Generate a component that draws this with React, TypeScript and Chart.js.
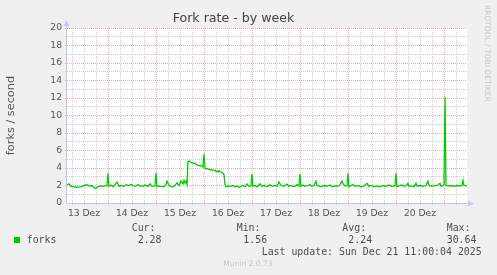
import React, { useEffect, useRef } from 'react';
import { Chart, registerables } from 'chart.js';

Chart.register(...registerables);

// hours since 13 Dez 00:00
const sampleHours = [
  3.5, 4.5, 5.5, 7, 8.5, 10, 11, 12.5, 13.5, 14.5, 16, 17, 18, 19, 20, 21.5, 22.5, 23.5,
  24, 24.5, 25.5, 26.5, 27.5, 28.5, 29.5, 30.5, 32, 33, 34.5, 35.5, 36.5, 38, 39, 40, 41.5, 42.5, 44, 45, 46, 47.5,
  48, 48.5, 49.5, 50.5, 52, 53, 53.5, 54.5, 55.5, 56.5, 57.5, 58.5, 59.5, 60.5, 61.5, 62, 62.5, 63, 63.5,
  64, 64.5, 65.5, 66.5, 67, 67.5, 68.5, 69, 70, 70.5, 71.5,
  72, 72.5, 73.5, 74.5, 75.5, 76.5, 77.5, 78, 78.5, 79, 79.5, 80, 80.5, 81.5, 82, 82.5, 83, 84, 85, 86.5, 87.5,
  88.5, 89.5, 90.5, 91.5, 92.5, 93.5, 94.5, 95.5,
  96, 96.5, 97.5, 98.5, 100, 101, 102, 103.5, 105, 106, 107.5, 108.5, 109.5, 110.5, 112, 113.5, 114.5, 115.5,
  117, 118.5, 119.5,
  120, 120.5, 121.5, 122.5, 124, 125, 126, 127, 128, 128.5, 129.5, 130.5, 132, 133.5, 135, 136, 137.5, 139,
  140, 141, 141.5, 142.5, 143.5,
  144, 144.5, 145.5, 146.5, 147.5, 149, 150.5, 152, 153.5, 154.5, 155.5, 157, 158.5, 160, 161.5, 163, 164.5,
  166, 167.5,
  168, 168.5, 169.5, 171, 172, 173, 174, 174.5, 176, 177, 178, 178.5, 180, 181.5, 183, 184, 184.5, 185.5,
  187, 188.5, 190, 190.5, 191.5,
  192, 192.5, 193, 194, 195.5, 197, 198.5, 200, 201, 201.5, 202, 203, 203.5,
];

const forkRates = [
  2.05, 2.2, 1.9, 1.85, 1.8, 1.85, 1.9, 2.05, 2.1, 1.95, 2.0, 1.75, 1.65, 1.85, 1.95, 1.9, 1.95, 1.95,
  3.4, 1.9, 2.05, 1.85, 2.1, 2.4, 1.9, 2.0, 1.9, 2.1, 2.0, 2.15, 2.0, 1.9, 2.1, 1.95, 1.9, 2.05, 1.9, 2.2, 1.9, 1.95,
  3.45, 1.85, 1.95, 1.9, 1.85, 2.1, 2.5, 2.0, 1.9, 1.85, 2.0, 2.3, 2.0, 2.5, 2.2, 2.6, 2.3, 2.5, 2.1,
  4.75, 4.8, 4.65, 4.6, 4.5, 4.55, 4.35, 4.3, 4.25, 4.3, 4.1,
  5.6, 3.95, 3.9, 3.85, 3.8, 3.75, 3.75, 3.6, 3.65, 3.55, 3.7, 3.6, 3.55, 3.4, 3.25, 2.1, 1.85, 1.95, 1.9, 2.0, 1.85,
  1.95, 1.8, 1.9, 2.0, 1.85, 2.2, 1.9, 1.95,
  3.3, 1.9, 2.0, 1.85, 2.2, 1.9, 2.0, 1.85, 2.1, 1.9, 2.0, 1.9, 2.4, 2.0, 1.9, 2.15, 1.9, 2.0,
  1.85, 2.1, 1.95,
  3.3, 1.9, 2.05, 1.9, 2.0, 2.1, 1.9, 2.0, 2.5, 2.0, 1.95, 1.85, 2.0, 1.9, 2.05, 1.85, 1.95, 1.9,
  2.1, 2.5, 2.2, 1.95, 1.95,
  3.4, 1.85, 2.0, 2.1, 1.9, 2.0, 1.85, 1.95, 2.25, 1.9, 2.0, 1.85, 1.95, 1.85, 2.0, 1.9, 2.05,
  1.9, 1.95,
  3.4, 1.85, 1.95, 2.05, 1.9, 2.0, 2.25, 1.9, 1.95, 1.85, 2.25, 1.95, 2.0, 1.9, 2.0, 2.5, 2.05, 1.9,
  1.95, 2.0, 2.25, 1.9, 2.0,
  2.1, 12.1, 2.0, 1.95, 2.0, 1.9, 2.0, 1.95, 2.0, 2.6, 2.0, 1.95, 2.0,
];

const dayLabels = ['13 Dez', '14 Dez', '15 Dez', '16 Dez', '17 Dez', '18 Dez', '19 Dez', '20 Dez'];
const xRangeHours = [3.5, 203.5];
const yRange = [0, 20];

const chartTitle = 'Fork rate - by week';
const yAxisTitle = 'forks / second';
const seriesName = 'forks';
const legendHeaders = ['Cur:', 'Min:', 'Avg:', 'Max:'];
const legendValues = ['2.28', '1.56', '2.24', '30.64'];
const lastUpdate = 'Last update: Sun Dec 21 11:00:04 2025';
const footer = 'Munin 2.0.73';
const sideText = 'RRDTOOL / TOBI OETIKER';

const LINE_COLOR = '#00CC00';
const MAJOR_GRID = 'rgba(238,140,140,0.75)';
const MINOR_GRID = 'rgba(175,175,175,0.65)';
const AXIS_COLOR = 'rgb(196,200,248)';
const TEXT_COLOR = '#555555';

const framePlugin = {
  id: 'muninFrame',
  beforeDraw(chart: any) {
    const { ctx, chartArea: a } = chart;
    ctx.save();
    ctx.fillStyle = '#ffffff';
    ctx.fillRect(a.left, a.top, a.right - a.left, a.bottom - a.top);
    ctx.restore();
  },
  afterDraw(chart: any) {
    const { ctx, chartArea: a } = chart;
    const x0 = Math.round(a.left) - 0.5;
    const y0 = Math.round(a.bottom) + 0.5;
    ctx.save();
    ctx.strokeStyle = AXIS_COLOR;
    ctx.fillStyle = AXIS_COLOR;
    ctx.lineWidth = 1;
    ctx.beginPath();
    ctx.moveTo(x0, y0);
    ctx.lineTo(x0, a.top - 4);
    ctx.moveTo(x0, y0);
    ctx.lineTo(a.right + 3, y0);
    ctx.stroke();
    ctx.beginPath();
    ctx.moveTo(x0, a.top - 8);
    ctx.lineTo(x0 - 3, a.top - 2);
    ctx.lineTo(x0 + 3, a.top - 2);
    ctx.closePath();
    ctx.fill();
    ctx.beginPath();
    ctx.moveTo(a.right + 7, y0);
    ctx.lineTo(a.right + 1, y0 - 3);
    ctx.lineTo(a.right + 1, y0 + 3);
    ctx.closePath();
    ctx.fill();
    ctx.restore();
  },
};

export default function App() {
  const canvasRef = useRef<HTMLCanvasElement | null>(null);

  useEffect(() => {
    const canvas = canvasRef.current;
    if (!canvas) return;
    const points = sampleHours.map((h, i) => ({ x: h, y: forkRates[i] }));
    const chart = new Chart(canvas, {
      type: 'line',
      data: {
        datasets: [
          {
            label: seriesName,
            data: points,
            borderColor: LINE_COLOR,
            borderWidth: 1.3,
            pointRadius: 0,
            tension: 0,
            fill: false,
          },
        ],
      },
      options: {
        animation: false,
        responsive: false,
        maintainAspectRatio: false,
        layout: { padding: { left: 0, right: 30, top: 0, bottom: 0 } },
        plugins: {
          legend: { display: false },
          tooltip: { enabled: false },
          title: {
            display: true,
            text: chartTitle,
            color: '#444444',
            font: { family: 'DejaVu Sans', size: 12.6, weight: 'normal' },
            padding: { top: 11, bottom: 1.9 },
          },
        },
        scales: {
          x: {
            type: 'linear',
            min: xRangeHours[0],
            max: xRangeHours[1],
            afterFit(scale: any) {
              scale.height = 72;
            },
            afterBuildTicks(scale: any) {
              const t = [];
              for (let h = 6; h < xRangeHours[1]; h += 6) t.push({ value: h });
              scale.ticks = t;
            },
            border: { display: false, dash: [1, 1] },
            grid: {
              color: (c: any) => (c.tick && c.tick.value % 24 === 0 ? MAJOR_GRID : MINOR_GRID),
              lineWidth: 1,
              drawTicks: true,
              tickLength: 2,
            },
            ticks: {
              autoSkip: false,
              maxRotation: 0,
              padding: 3,
              color: TEXT_COLOR,
              font: { family: 'DejaVu Sans', size: 9.2 },
              callback: (v: any) => {
                const n = Number(v);
                if (n % 24 !== 12) return '';
                return dayLabels[Math.round((n - 12) / 24)] ?? '';
              },
            },
          },
          y: {
            type: 'linear',
            min: yRange[0],
            max: yRange[1],
            afterFit(scale: any) {
              scale.width = 67;
            },
            border: { display: false, dash: [1, 1] },
            grid: {
              color: (c: any) => {
                const v = c.tick ? c.tick.value : 0;
                if (v === 0) return 'rgba(0,0,0,0)';
                return v % 2 === 0 ? MAJOR_GRID : MINOR_GRID;
              },
              lineWidth: 1,
              drawTicks: true,
              tickLength: 2,
            },
            ticks: {
              stepSize: 1,
              padding: 3,
              autoSkip: false,
              color: TEXT_COLOR,
              font: { family: 'DejaVu Sans', size: 9.2 },
              callback: (v: any) => (Number(v) % 2 === 0 ? String(v) : ''),
            },
            title: {
              display: true,
              text: yAxisTitle,
              color: TEXT_COLOR,
              font: { family: 'DejaVu Sans', size: 11.3 },
              padding: { top: 4, bottom: 0 },
            },
          },
        },
      },
      plugins: [framePlugin],
    });
    return () => chart.destroy();
  }, []);

  const mono: React.CSSProperties = {
    position: 'absolute',
    fontFamily: '"DejaVu Sans Mono", monospace',
    fontSize: '9.9px',
    lineHeight: '12px',
    color: '#4d4d4d',
    whiteSpace: 'pre',
  };
  const headerLefts = [131.7, 236.7, 342.3, 446.7];
  const valueLefts = [137.7, 243.3, 348.3, 446.7];

  return (
    <div
      style={{
        position: 'fixed',
        left: 0,
        top: 0,
        width: 497,
        height: 275,
        background: '#F0F0F0',
        overflow: 'hidden',
      }}
    >
      <canvas ref={canvasRef} width={497} height={275} style={{ position: 'absolute', left: 0, top: 0, width: 497, height: 275 }} />
      {legendHeaders.map((h, i) => (
        <div key={h} style={{ ...mono, left: headerLefts[i], top: 227.7 - 6 }}>
          {h}
        </div>
      ))}
      <div style={{ position: 'absolute', left: 14, top: 237, width: 6, height: 6, background: LINE_COLOR }} />
      <div style={{ ...mono, left: 26.7, top: 239.7 - 6 }}>{seriesName}</div>
      {legendValues.map((v, i) => (
        <div key={i} style={{ ...mono, left: valueLefts[i], top: 239.7 - 6 }}>
          {v}
        </div>
      ))}
      <div style={{ ...mono, left: 261.7, top: 251.7 - 6 }}>{lastUpdate}</div>
      <div
        style={{
          position: 'absolute',
          left: 223.3,
          top: 263.7 - 5,
          fontFamily: '"DejaVu Sans", sans-serif',
          fontSize: '7.55px',
          lineHeight: '10px',
          color: '#c4c4c4',
          whiteSpace: 'pre',
        }}
      >
        {footer}
      </div>
      <div
        style={{
          position: 'absolute',
          left: 483,
          top: 5,
          writingMode: 'vertical-rl',
          fontFamily: '"DejaVu Sans", sans-serif',
          fontSize: '7.5px',
          lineHeight: '9px',
          color: '#c8c8c8',
          whiteSpace: 'pre',
        }}
      >
        {sideText}
      </div>
    </div>
  );
}
